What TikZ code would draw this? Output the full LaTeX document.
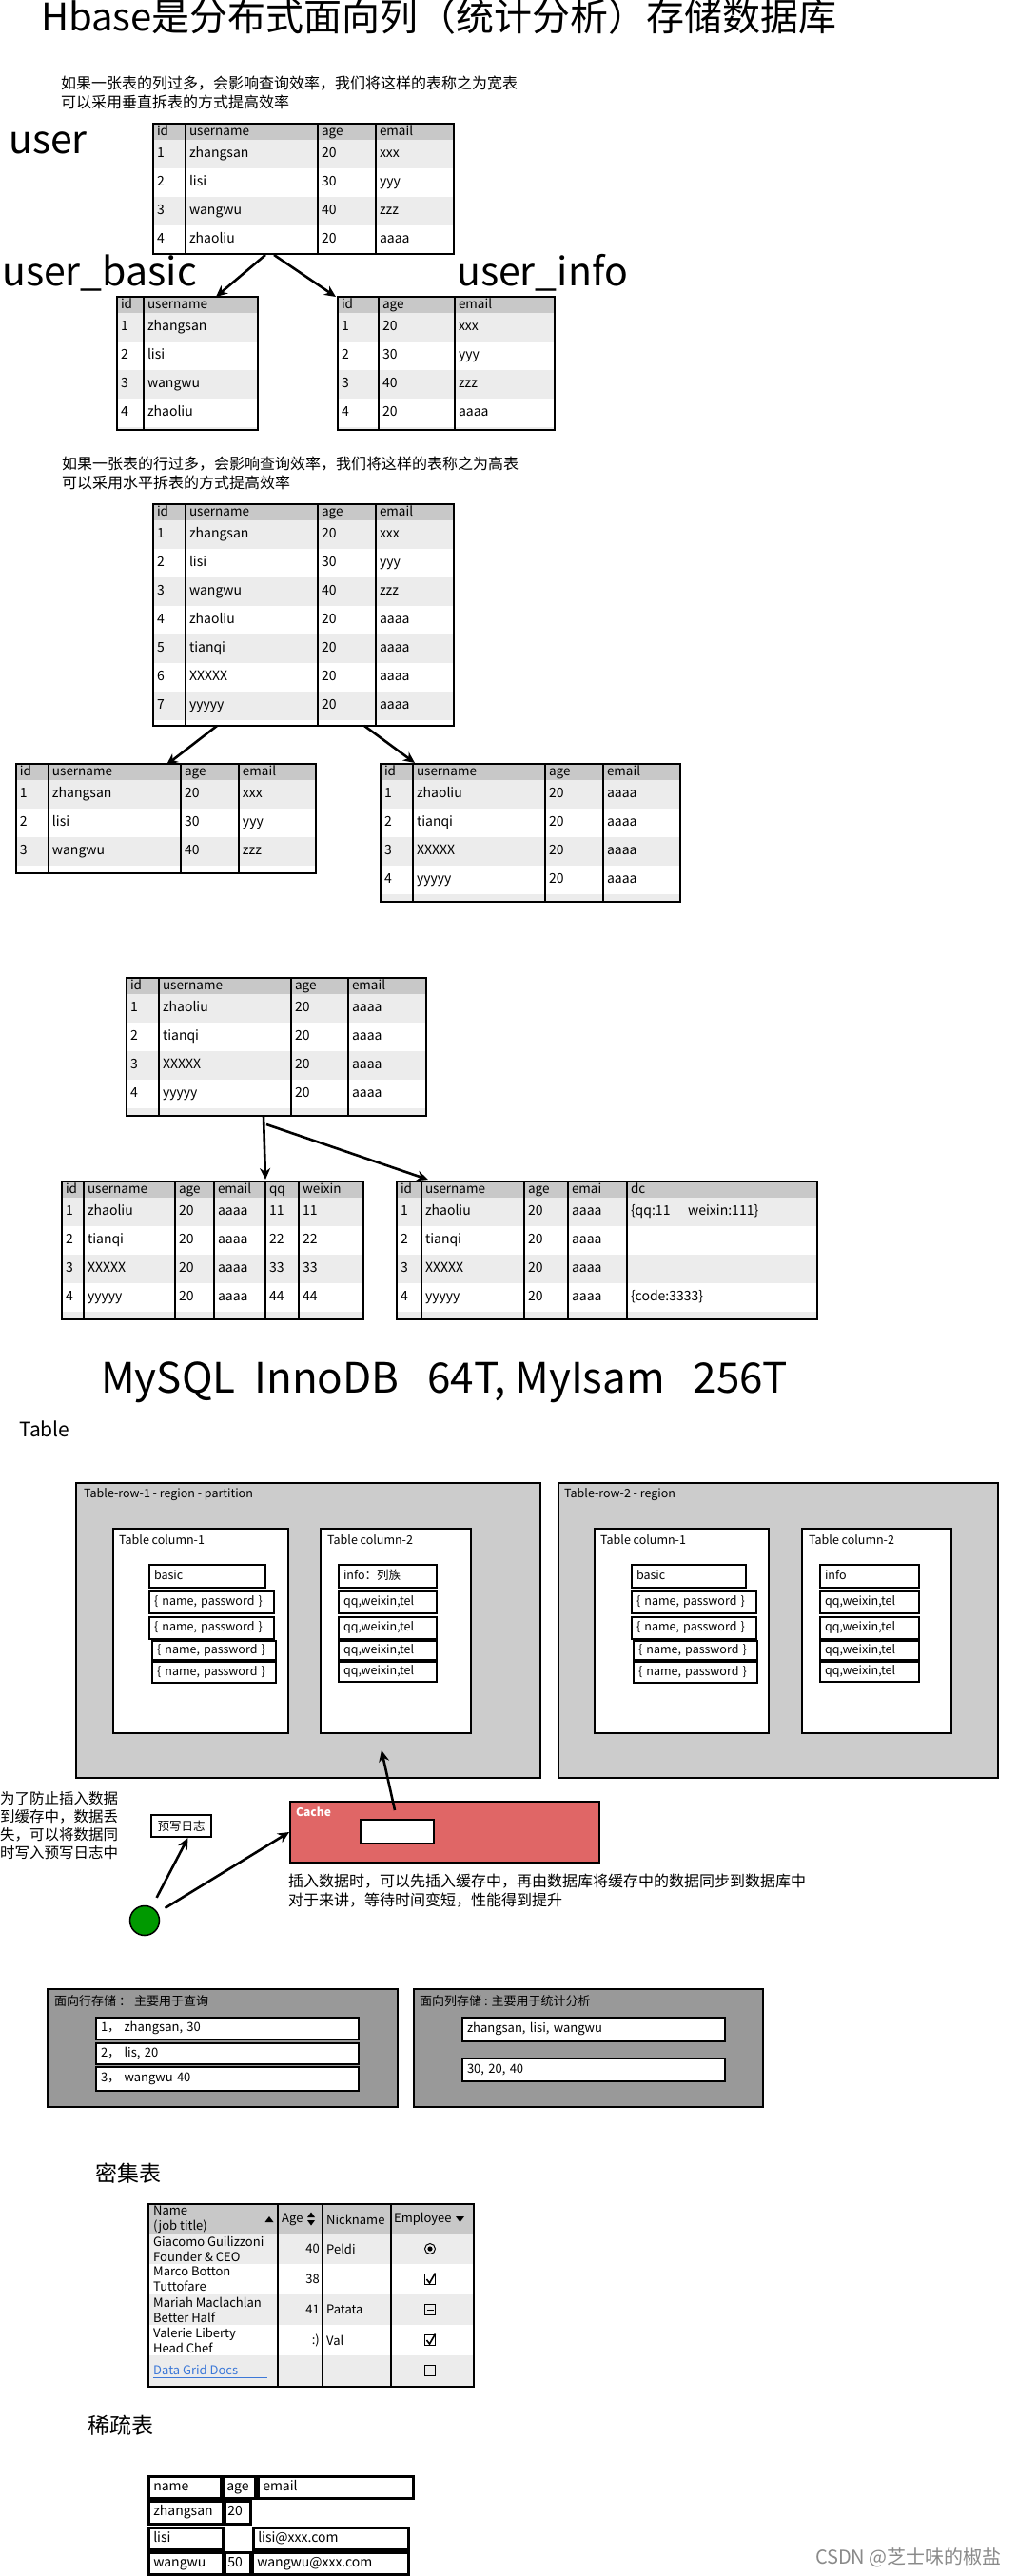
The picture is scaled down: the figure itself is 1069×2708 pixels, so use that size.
\documentclass[tikz,border=0pt]{standalone}
\usepackage{fontspec}
\setmainfont{Noto Sans CJK SC}
\usetikzlibrary{matrix,arrows.meta,calc}
\definecolor{hdr}{HTML}{C8C8C8}
\definecolor{rowg}{HTML}{ECECEC}
\definecolor{regiong}{HTML}{CCCCCC}
\definecolor{darkg}{HTML}{999999}
\definecolor{cachered}{HTML}{E06666}
\definecolor{dotgreen}{HTML}{009900}
\definecolor{linkblue}{HTML}{3C78D8}
\definecolor{wmgray}{HTML}{8A8A8A}
\newcommand\fsz[2]{\fontsize{#1pt}{#2pt}\selectfont}
\tikzset{
  tbl/.style={matrix of nodes, nodes in empty cells, anchor=north west,
    inner sep=0pt, outer sep=0pt, column sep=0pt, row sep=0pt,
    nodes={anchor=center, inner xsep=4pt, inner ysep=0pt, outer sep=0pt,
      minimum height=30pt, align=left, font=\fsz{14}{16},
      text height=10pt, text depth=3pt},
    row 1/.style={nodes={fill=hdr, minimum height=17pt, font=\fsz{13.5}{15}}},
    row 2/.style={nodes={fill=rowg}}, row 4/.style={nodes={fill=rowg}},
    row 6/.style={nodes={fill=rowg}}, row 8/.style={nodes={fill=rowg}}},
  tw/.style 2 args={column #1/.style={nodes={text width=#2pt}}},
  arr/.style={line width=2.6pt, -{Stealth[length=12pt,width=11pt]}},
  region/.style={draw, line width=2pt, fill=regiong, anchor=north west, inner sep=0pt},
  colbox/.style={draw, line width=2pt, fill=white, anchor=north west, inner sep=0pt},
  smallbox/.style={draw, line width=2pt, fill=white, anchor=north west, inner xsep=5pt,
    inner ysep=0pt, align=left, font=\fsz{12.5}{14}, text height=9pt, text depth=3pt},
  lbl/.style={anchor=west, inner sep=0pt, font=\fsz{12.5}{14}},
  body/.style={anchor=north west, inner sep=0pt, align=left, font=\fsz{16}{19.5}},
  gtxt/.style={anchor=west, inner sep=0pt, align=left, font=\fsz{13}{16}},
  sparse/.style={line width=2.5pt, font=\fsz{14}{16}, text height=10pt},
}
\newcommand\tblframe[4]{%
  \fill[#4] (#1.south west) rectangle ($(#1.south east)+(0,#3)$);
  \foreach \cc in {#2}{\draw[line width=1.5pt] (#1-1-\cc.north west) -- ($(#1-1-\cc.north west |- #1.south)+(0,#3)$);}
  \draw[line width=2pt] (#1.north west) rectangle ($(#1.south east)+(0,#3)$);}
\newcommand\cellbox[7][]{%
  \pgfmathsetmacro\cbT{#5-#3-10}\pgfmathsetmacro\cbH{#6-#4}%
  \node[smallbox, text width=\cbT pt, minimum height=\cbH pt, #1] (#2) at (#3,#4) {#7};}
\begin{document}
\begin{tikzpicture}[x=1pt, y=-1pt]
\useasboundingbox (0,0) rectangle (1069,2708);
\fill[white] (0,0) rectangle (1069,2708);
% ---------- title and vertical split ----------
\node[anchor=base west, inner sep=0, font=\fsz{40}{46}] (title) at (43,33) {Hbase是分布式面向列（统计分析）存储数据库};
\node[body] (note1) at (64,80) {如果一张表的列过多，会影响查询效率，我们将这样的表称之为宽表\\可以采用垂直拆表的方式提高效率};
\node[anchor=base west, inner sep=0, font=\fsz{41}{46}] (lbluser) at (9,162) {user};
\matrix (user) [tbl, tw={1}{26}, tw={2}{131}, tw={3}{53}, tw={4}{74}] at (161,130) {
id & username & age & email\\
1 & zhangsan & 20 & xxx\\
2 & lisi & 30 & yyy\\
3 & wangwu & 40 & zzz\\
4 & zhaoliu & 20 & aaaa\\
};
\tblframe{user}{2,3,4}{0}{white}
\node[anchor=base west, inner sep=0, font=\fsz{41}{46}] (lblub) at (2,300) {user\_basic};
\node[anchor=base west, inner sep=0, font=\fsz{41}{46}] (lblui) at (480,300) {user\_info};
\matrix (ub) [tbl, tw={1}{20}, tw={2}{112}] at (123,312) {
id & username\\
1 & zhangsan\\
2 & lisi\\
3 & wangwu\\
4 & zhaoliu\\
};
\tblframe{ub}{2}{3}{rowg}
\matrix (ui) [tbl, tw={1}{35}, tw={2}{72}, tw={3}{97}] at (355,312) {
id & age & email\\
1 & 20 & xxx\\
2 & 30 & yyy\\
3 & 40 & zzz\\
4 & 20 & aaaa\\
};
\tblframe{ui}{2,3}{3}{rowg}
\draw[arr] ($(user.south west)+(118,1)$) -- ($(ub.north west)+(104,0)$);
\draw[arr] ($(user.south west)+(127,1)$) -- ($(ui.north west)+(-2,0)$);
% ---------- horizontal split ----------
\node[body, font=\fsz{16}{20}] (note2) at (65,480) {如果一张表的行过多，会影响查询效率，我们将这样的表称之为高表\\可以采用水平拆表的方式提高效率};
\matrix (big) [tbl, tw={1}{26}, tw={2}{131}, tw={3}{53}, tw={4}{74}] at (161,530) {
id & username & age & email\\
1 & zhangsan & 20 & xxx\\
2 & lisi & 30 & yyy\\
3 & wangwu & 40 & zzz\\
4 & zhaoliu & 20 & aaaa\\
5 & tianqi & 20 & aaaa\\
6 & XXXXX & 20 & aaaa\\
7 & yyyyy & 20 & aaaa\\
};
\tblframe{big}{2,3,4}{6}{white}
\matrix (hl) [tbl, tw={1}{26}, tw={2}{131}, tw={3}{53}, tw={4}{73}] at (17,803) {
id & username & age & email\\
1 & zhangsan & 20 & xxx\\
2 & lisi & 30 & yyy\\
3 & wangwu & 40 & zzz\\
};
\tblframe{hl}{2,3,4}{8}{white}
\matrix (hr) [tbl, tw={1}{26}, tw={2}{131}, tw={3}{53}, tw={4}{73}] at (400,803) {
id & username & age & email\\
1 & zhaoliu & 20 & aaaa\\
2 & tianqi & 20 & aaaa\\
3 & XXXXX & 20 & aaaa\\
4 & yyyyy & 20 & aaaa\\
};
\tblframe{hr}{2,3,4}{8}{rowg}
\draw[arr] ($(big.south west)+(67,6)$) -- ($(hl.north west)+(158,1)$);
\draw[arr] ($(big.south west)+(222,6)$) -- ($(hr.north west)+(36,-1)$);
% ---------- column family ----------
\matrix (vt) [tbl, tw={1}{26}, tw={2}{131}, tw={3}{52}, tw={4}{74}] at (133,1028) {
id & username & age & email\\
1 & zhaoliu & 20 & aaaa\\
2 & tianqi & 20 & aaaa\\
3 & XXXXX & 20 & aaaa\\
4 & yyyyy & 20 & aaaa\\
};
\tblframe{vt}{2,3,4}{8}{rowg}
\matrix (wl) [tbl, tw={1}{15}, tw={2}{88}, tw={3}{33}, tw={4}{46}, tw={5}{27}, tw={6}{60}] at (65,1242) {
id & username & age & email & qq & weixin\\
1 & zhaoliu & 20 & aaaa & 11 & 11\\
2 & tianqi & 20 & aaaa & 22 & 22\\
3 & XXXXX & 20 & aaaa & 33 & 33\\
4 & yyyyy & 20 & aaaa & 44 & 44\\
};
\tblframe{wl}{2,3,4,5,6}{8}{rowg}
\matrix (wr) [tbl, tw={1}{18}, tw={2}{100}, tw={3}{38}, tw={4}{54}, tw={5}{192}] at (417,1242) {
id & username & age & emai & dc\\
1 & zhaoliu & 20 & aaaa & \{qq:11\quad\ weixin:111\}\\
2 & tianqi & 20 & aaaa & \\
3 & XXXXX & 20 & aaaa & \\
4 & yyyyy & 20 & aaaa & \{code:3333\}\\
};
\tblframe{wr}{2,3,4,5}{8}{rowg}
\draw[arr] ($(vt.south west)+(144,8)$) -- ($(wl.north west)+(214,-2)$);
\draw[arr] ($(vt.south west)+(147,17)$) -- ($(wr.north west)+(33,-2)$);
% ---------- HBase structure ----------
\node[anchor=base west, inner sep=0, font=\fsz{44}{50}] (mysql) at (106,1464) {MySQL\ \ InnoDB\ \ \ 64T, MyIsam\ \ \ 256T};
\node[anchor=base west, inner sep=0, font=\fsz{21}{24}] (tablelbl) at (20,1510) {Table};
\node[region, minimum width=488pt, minimum height=310pt] (reg1) at (79,1558) {};
\node[lbl] (reg1t) at (88,1571) {Table-row-1 - region - partition};
\node[region, minimum width=462pt, minimum height=310pt] (reg2) at (586,1558) {};
\node[lbl] (reg2t) at (593,1571) {Table-row-2 - region};
\node[colbox, minimum width=184pt, minimum height=215pt] (c11) at (118,1606) {};
\node[lbl] (c11t) at (125,1619) {Table column-1};
\node[colbox, minimum width=158pt, minimum height=215pt] (c12) at (336,1606) {};
\node[lbl] (c12t) at (344,1619) {Table column-2};
\node[colbox, minimum width=183pt, minimum height=215pt] (c21) at (624,1606) {};
\node[lbl] (c21t) at (631,1619) {Table column-1};
\node[colbox, minimum width=157pt, minimum height=215pt] (c22) at (842,1606) {};
\node[lbl] (c22t) at (850,1619) {Table column-2};
\cellbox{b1}{156}{1644}{278}{1668}{basic}
\cellbox{np11}{156}{1672}{287}{1695}{\{ name, password \}}
\cellbox{np12}{156}{1699}{287}{1722}{\{ name, password \}}
\cellbox{np13}{159}{1724}{289}{1744}{\{ name, password \}}
\cellbox{np14}{159}{1746}{289}{1768}{\{ name, password \}}
\cellbox{i1}{355}{1644}{458}{1668}{info：列族}
\cellbox{q11}{355}{1672}{458}{1695}{qq,weixin,tel}
\cellbox{q12}{355}{1699}{458}{1722}{qq,weixin,tel}
\cellbox{q13}{355}{1724}{458}{1744}{qq,weixin,tel}
\cellbox{q14}{355}{1746}{458}{1767}{qq,weixin,tel}
\cellbox{b2}{663}{1644}{783}{1668}{basic}
\cellbox{np21}{663}{1672}{794}{1695}{\{ name, password \}}
\cellbox{np22}{663}{1699}{794}{1722}{\{ name, password \}}
\cellbox{np23}{665}{1724}{795}{1744}{\{ name, password \}}
\cellbox{np24}{665}{1746}{795}{1768}{\{ name, password \}}
\cellbox{i2}{861}{1644}{965}{1668}{info}
\cellbox{q21}{861}{1672}{965}{1695}{qq,weixin,tel}
\cellbox{q22}{861}{1699}{965}{1722}{qq,weixin,tel}
\cellbox{q23}{861}{1724}{965}{1744}{qq,weixin,tel}
\cellbox{q24}{861}{1746}{965}{1767}{qq,weixin,tel}
% ---------- cache ----------
\node[draw, line width=2pt, fill=cachered, anchor=north west, minimum width=325pt, minimum height=64pt, inner sep=0] (cache) at (304,1893) {};
\node[anchor=west, inner sep=0, text=white, font=\fsz{12}{14}\bfseries] (cachet) at (311,1905) {Cache};
\node[draw, line width=2pt, fill=white, anchor=north west, minimum width=77pt, minimum height=25pt, inner sep=0] (cachein) at (378,1912) {};
\node[draw, line width=2pt, fill=white, anchor=north west, minimum width=63pt, minimum height=23pt, inner sep=0, font=\fsz{12.5}{14}] (wal) at (158,1907) {预写日志};
\node[body, font=\fsz{15.5}{19}] (note3) at (0,1883) {为了防止插入数据\\到缓存中，数据丢\\失，可以将数据同\\时写入预写日志中};
\node[body] (note4) at (303,1970) {插入数据时，可以先插入缓存中，再由数据库将缓存中的数据同步到数据库中\\对于来讲，等待时间变短，性能得到提升};
\node[circle, draw, line width=1.5pt, fill=dotgreen, minimum size=31pt, inner sep=0] (dot) at (152,2019) {};
\draw[arr, shorten <=11pt] (dot) -- ($(wal.south)+(7,0)$);
\draw[arr, shorten <=9pt] (dot) -- (cache.west);
\draw[arr] ($(cache.north west)+(111,10)$) -- ($(reg1.south west)+(322,-30)$);
% ---------- row / column storage ----------
\node[draw, line width=2pt, fill=darkg, anchor=north west, minimum width=368pt, minimum height=124pt, inner sep=0] (rowst) at (49,2090) {};
\node[lbl, font=\fsz{13}{15}] (rowstt) at (57,2104) {面向行存储 ： 主要用于查询};
\cellbox[font=\fsz{13}{15}]{r1}{100}{2120}{376}{2143}{1， zhangsan, 30}
\cellbox[font=\fsz{13}{15}]{r2}{100}{2147}{376}{2169}{2， lis, 20}
\cellbox[font=\fsz{13}{15}]{r3}{100}{2172}{376}{2197}{3， wangwu 40}
\node[draw, line width=2pt, fill=darkg, anchor=north west, minimum width=367pt, minimum height=124pt, inner sep=0] (colst) at (434,2090) {};
\node[lbl, font=\fsz{13}{15}] (colstt) at (441,2104) {面向列存储 : 主要用于统计分析};
\cellbox[font=\fsz{13}{15}]{cs1}{485}{2120}{761}{2145}{zhangsan, lisi, wangwu}
\cellbox[font=\fsz{13}{15}]{cs2}{485}{2163}{761}{2187}{30, 20, 40}
% ---------- dense table ----------
\node[anchor=west, inner sep=0, font=\fsz{23}{26}] (denset) at (100,2285) {密集表};
\fill[hdr] (155,2316) rectangle (497,2348);
\fill[rowg] (155,2348) rectangle (497,2380);
\fill[rowg] (155,2412) rectangle (497,2444);
\fill[rowg] (155,2476) rectangle (497,2508);
\foreach \gx in {292,339,411} {\draw[line width=1.5pt] (\gx,2316) -- (\gx,2508);}
\node[draw, line width=2pt, anchor=north west, minimum width=342pt, minimum height=192pt, inner sep=0] (grid) at (155,2316) {};
\node[gtxt] (gh1) at (161,2333) {Name\\(job title)};
\fill (278.5,2336) -- (287.5,2336) -- (283,2330) -- cycle;
\node[gtxt] (gh2) at (296,2333) {Age};
\fill (323,2331) -- (331,2331) -- (327,2325.5) -- cycle;
\fill (323,2334) -- (331,2334) -- (327,2339.5) -- cycle;
\node[gtxt] (gh3) at (343,2333) {Nickname};
\node[gtxt] (gh4) at (414,2333) {Employee};
\fill (479,2330) -- (488,2330) -- (483.5,2336) -- cycle;
\node[gtxt] (gn1) at (161,2364) {Giacomo Guilizzoni\\Founder \& CEO};
\node[gtxt] (gn2) at (161,2396) {Marco Botton\\Tuttofare};
\node[gtxt] (gn3) at (161,2428) {Mariah Maclachlan\\Better Half};
\node[gtxt] (gn4) at (161,2460) {Valerie Liberty\\Head Chef};
\node[gtxt, text=linkblue] (gn5) at (161,2491) {Data Grid Docs};
\draw[linkblue, line width=0.8pt] (161,2499) -- (281,2499);
\node[gtxt, anchor=east] (ga1) at (336,2364) {40};
\node[gtxt, anchor=east] (ga2) at (336,2396) {38};
\node[gtxt, anchor=east] (ga3) at (336,2428) {41};
\node[gtxt, anchor=east] (ga4) at (336,2460) {:)};
\node[gtxt] (gk1) at (343,2364) {Peldi};
\node[gtxt] (gk3) at (343,2428) {Patata};
\node[gtxt] (gk4) at (343,2460) {Val};
\node[circle, draw, line width=1pt, minimum size=11pt, inner sep=0] (ge1) at (452,2364) {};
\fill (ge1.center) circle (2.6);
\node[draw, line width=1pt, minimum size=11pt, inner sep=0] (ge2) at (452,2396) {};
\draw[line width=1.6pt] (448.5,2396) -- (451.5,2400) -- (457.5,2389.5);
\node[draw, line width=1pt, minimum size=11pt, inner sep=0] (ge3) at (452,2428) {};
\draw[line width=1pt] (448.5,2428) -- (455.5,2428);
\node[draw, line width=1pt, minimum size=11pt, inner sep=0] (ge4) at (452,2460) {};
\draw[line width=1.6pt] (448.5,2460) -- (451.5,2464) -- (457.5,2453.5);
\node[draw, line width=1pt, minimum size=11pt, inner sep=0] (ge5) at (452,2492) {};
% ---------- sparse table ----------
\node[anchor=west, inner sep=0, font=\fsz{23}{26}] (sparset) at (92,2550) {稀疏表};
\cellbox[sparse]{s11}{155}{2602}{231}{2625}{name}
\cellbox[sparse, inner xsep=3pt, text width=27pt]{s12}{234}{2602}{267}{2625}{age}
\cellbox[sparse]{s13}{270}{2602}{433}{2625}{email}
\cellbox[sparse]{s21}{155}{2628}{233}{2652}{zhangsan}
\cellbox[sparse, inner xsep=3pt, text width=21pt]{s22}{235}{2628}{262}{2652}{20}
\cellbox[sparse]{s31}{155}{2656}{233}{2679}{lisi}
\cellbox[sparse]{s33}{265}{2656}{428}{2679}{lisi@xxx.com}
\cellbox[sparse]{s41}{155}{2682}{233}{2705}{wangwu}
\cellbox[sparse, inner xsep=3pt, text width=21pt]{s42}{235}{2682}{262}{2705}{50}
\cellbox[sparse]{s43}{264}{2682}{428}{2705}{wangwu@xxx.com}
% ---------- watermark ----------
\node[anchor=east, inner sep=0, font=\fsz{20}{22}, text=wmgray] (wm) at (1053,2689) {CSDN @芝士味的椒盐};
\end{tikzpicture}
\end{document}
